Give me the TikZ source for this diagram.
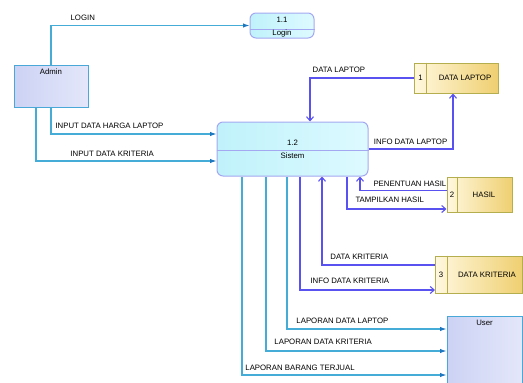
\documentclass[tikz,border=0pt]{standalone}
\usepackage{fontspec}
\setmainfont{Liberation Sans}
\usetikzlibrary{arrows.meta,positioning,backgrounds}
\definecolor{flowcyan}{HTML}{45ACD8}
\definecolor{tipblue}{HTML}{1E78C0}
\definecolor{flowpurp}{HTML}{5A52F0}
\definecolor{procline}{HTML}{A4A8F0}
\definecolor{procA}{HTML}{C0F2FB}
\definecolor{procB}{HTML}{DDFAFF}
\definecolor{entA}{HTML}{CCD2F4}
\definecolor{entB}{HTML}{E4E7FA}
\definecolor{entline}{HTML}{4AA8D8}
\definecolor{storeA}{HTML}{FFF8DE}
\definecolor{storeB}{HTML}{EFCF70}
\definecolor{storeline}{HTML}{B5AE4E}

\begin{document}
\begin{tikzpicture}[x=1pt,y=1pt,
  every node/.style={font=\fontsize{7.8}{9}\selectfont,inner sep=0pt},
  entity/.style={draw=entline,line width=1pt,left color=entA,right color=entB},
  proc/.style={draw=procline,line width=1pt,rounded corners=6pt,left color=procA,right color=procB},
  store/.style={draw=storeline,line width=1pt,left color=storeA,right color=storeB},
  lbl/.style={anchor=south west,text depth=0pt,yshift=4.5pt},
  cflow/.style={draw=flowcyan,line width=1.1pt,-{Latex[length=6.5pt,width=4.5pt,color=tipblue]}},
  pflow/.style={draw=flowpurp,line width=1.1pt,-{Straight Barb[length=4pt,width=7pt]}}]
\useasboundingbox (0,0) rectangle (523,-383);
\clip (0,0) rectangle (523,-383);

% external entities
\node[entity,minimum width=74pt,minimum height=42pt,
  label={[anchor=center,yshift=-7pt]north:Admin}] (admin) at (51,-86) {};
\node[entity,minimum width=75pt,minimum height=76pt,
  label={[anchor=center,yshift=-7pt]north:User}] (user) at (484.5,-354) {};

% processes
\node[proc,minimum width=64pt,minimum height=25pt] (login) at (282,-25.5) {};
\draw[procline,line width=1pt] ([yshift=-3.5pt]login.west) -- ([yshift=-3.5pt]login.east);
\node (loginId) at ([yshift=5.5pt]login.center) {1.1};
\node (loginTx) at ([yshift=-8pt]login.center) {Login};

\node[proc,minimum width=151pt,minimum height=54pt] (sistem) at (292.5,-149) {};
\draw[procline,line width=1pt] ([yshift=-1pt]sistem.west) -- ([yshift=-1pt]sistem.east);
\node (sistemId) at ([yshift=6.5pt]sistem.center) {1.2};
\node (sistemTx) at ([yshift=-7pt]sistem.center) {Sistem};

% data stores
\node[store,minimum width=84pt,minimum height=30pt] (store1) at (456,-78) {};
\draw[storeline,line width=1pt] ([xshift=13pt]store1.north west) -- ([xshift=13pt]store1.south west);
\node (store1No) at ([xshift=7pt]store1.west) {1};
\node (store1Tx) at ([xshift=9pt]store1.center) {DATA LAPTOP};

\node[store,minimum width=65pt,minimum height=35pt] (store2) at (479.5,-194.5) {};
\draw[storeline,line width=1pt] ([xshift=11pt]store2.north west) -- ([xshift=11pt]store2.south west);
\node (store2No) at ([xshift=5.5pt]store2.west) {2};
\node (store2Tx) at ([xshift=4.5pt]store2.center) {HASIL};

\node[store,minimum width=87pt,minimum height=37pt] (store3) at (479,-274.5) {};
\draw[storeline,line width=1pt] ([xshift=12pt]store3.north west) -- ([xshift=12pt]store3.south west);
\node (store3No) at ([xshift=6pt]store3.west) {3};
\node (store3Tx) at ([xshift=8pt]store3.center) {DATA KRITERIA};

% data flows
\begin{scope}[on background layer]
\draw[cflow] (admin.north) |- node[lbl,pos=0.548] (tLogin) {LOGIN} (login.west);
\draw[cflow] (admin.south) |- node[lbl,pos=0.512] (tHarga) {INPUT DATA HARGA LAPTOP} ([yshift=15pt]sistem.west);
\draw[cflow] ([xshift=-15pt]admin.south) |- node[lbl,pos=0.594,yshift=-0.5pt] (tKrit) {INPUT DATA KRITERIA} ([yshift=-12pt]sistem.west);

\draw[pflow] (store1.west) -| node[lbl,pos=0.49] (tDL) {DATA LAPTOP} ([xshift=17.5pt]sistem.north);
\draw[pflow] (sistem.east) -| node[lbl,pos=0.029,yshift=-1pt] (tIDL) {INFO DATA LAPTOP} ([xshift=-3pt]store1.south);
\draw[pflow] ([yshift=4pt]store2.west) -| node[lbl,pos=0.425,yshift=-1.5pt] (tPH) {PENENTUAN HASIL} ([xshift=67.5pt]sistem.south);
\draw[pflow] ([xshift=54.5pt]sistem.south) |- node[lbl,pos=0.54,yshift=1.5pt] (tTH) {TAMPILKAN HASIL} ([yshift=-14.5pt]store2.west);
\draw[pflow] ([yshift=9.5pt]store3.west) -| node[lbl,pos=0.465] (tDK) {DATA KRITERIA} ([xshift=29.5pt]sistem.south);
\draw[pflow] ([xshift=7.5pt]sistem.south) |- node[lbl,pos=0.537,yshift=1.5pt] (tIDK) {INFO DATA KRITERIA} ([yshift=-15.5pt]store3.west);

\draw[cflow] ([xshift=-5.5pt]sistem.south) |- node[lbl,pos=0.528] (tLDL) {LAPORAN DATA LAPTOP} ([yshift=25pt]user.west);
\draw[cflow] ([xshift=-26.5pt]sistem.south) |- node[lbl,pos=0.522,yshift=1pt] (tLDK) {LAPORAN DATA KRITERIA} ([yshift=3pt]user.west);
\draw[cflow] ([xshift=-50.5pt]sistem.south) |- node[lbl,pos=0.507,yshift=-1pt] (tLBT) {LAPORAN BARANG TERJUAL} ([yshift=-21pt]user.west);
\end{scope}
\end{tikzpicture}
\end{document}
